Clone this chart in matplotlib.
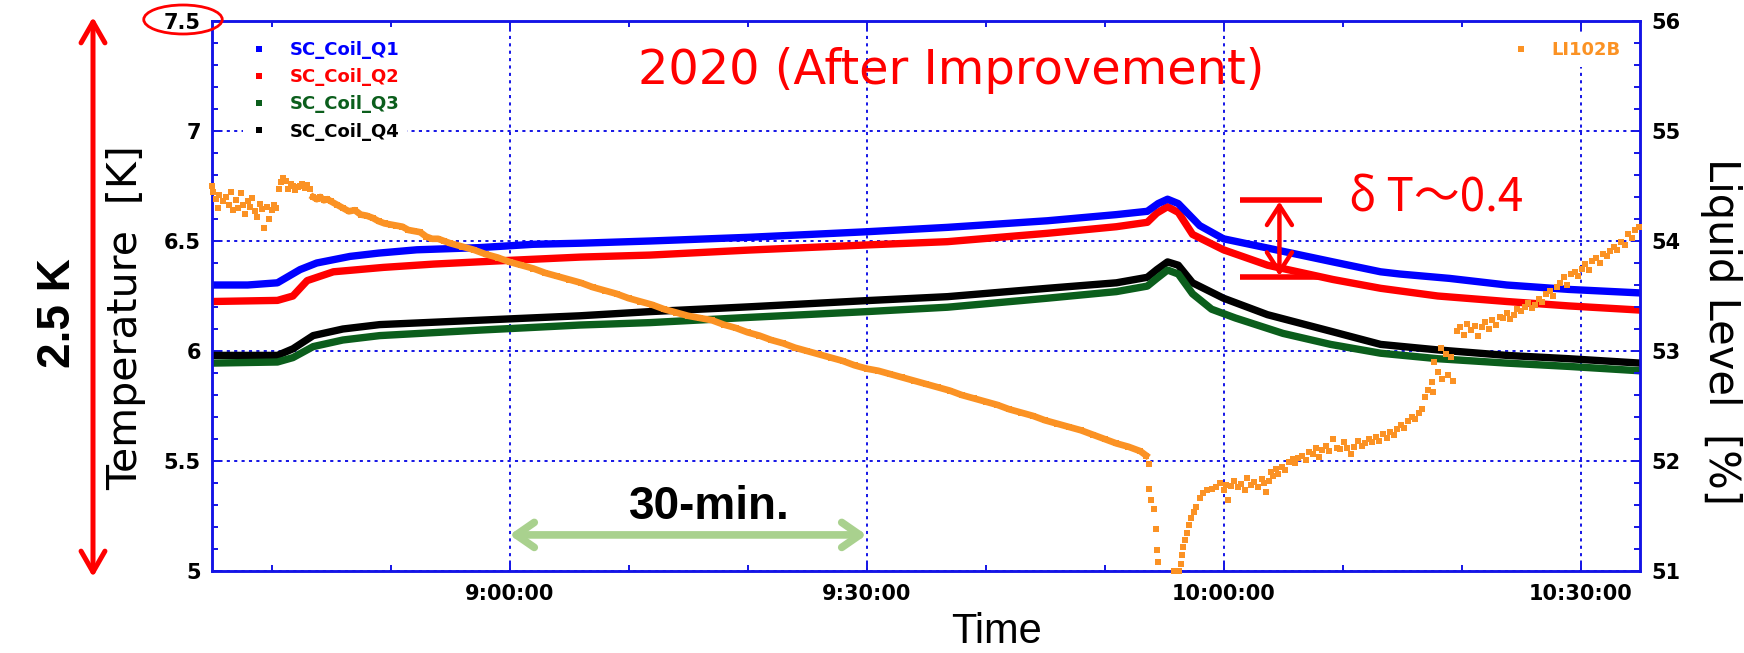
import numpy as np
import matplotlib
matplotlib.use("Agg")
import matplotlib.pyplot as plt
import matplotlib.dates as mdates
from matplotlib.lines import Line2D
from matplotlib.patches import Ellipse, FancyArrowPatch, ArrowStyle

# ---------------------------------------------------------------- data
# time axis: minutes elapsed since 8:35:00
start_time = "2020-01-01T08:35:00"
span_min = 120
time_ticks = ["9:00:00", "9:30:00", "10:00:00", "10:30:00"]

temp_ticks = [5, 5.5, 6, 6.5, 7, 7.5]
level_ticks = [51, 52, 53, 54, 55, 56]

q1_t = [0, 3, 5.5, 7.4, 8.8, 11.6, 14, 17.2, 22.5, 27, 31, 36.8, 45.2, 55, 61.8,
        70.2, 76, 78.6, 79.5, 80.3, 81.2, 82.1, 83, 85, 88.7, 94.2, 98.2, 99.8,
        104, 108.8, 114, 120]
q1 = [6.30, 6.30, 6.31, 6.37, 6.40, 6.43, 6.445, 6.46, 6.47, 6.485, 6.49, 6.50,
      6.517, 6.542, 6.562, 6.592, 6.62, 6.635, 6.67, 6.69, 6.67, 6.62, 6.57, 6.51,
      6.468, 6.405, 6.36, 6.35, 6.33, 6.30, 6.28, 6.264]

q2_t = [0, 5.5, 6.8, 8.0, 10.2, 14.4, 18.6, 24.2, 31, 36.8, 45.2, 55, 61.8, 70.2,
        76, 78.6, 79.4, 80.3, 81.2, 82.4, 85, 88.7, 94.2, 98.2, 103, 108.8, 114, 120]
q2 = [6.225, 6.23, 6.25, 6.32, 6.36, 6.38, 6.395, 6.41, 6.427, 6.436, 6.459,
      6.482, 6.497, 6.535, 6.565, 6.585, 6.627, 6.656, 6.63, 6.53, 6.46, 6.39,
      6.325, 6.285, 6.25, 6.225, 6.205, 6.186]

q3_t = [0, 5.5, 6.8, 8.5, 11, 14.1, 22.5, 30.9, 36.8, 45.2, 55, 61.8, 70.2, 76,
        78.6, 79.4, 80.3, 81.2, 82.4, 84, 86, 90, 94, 98.2, 103, 108.8, 114, 120]
q3 = [5.945, 5.95, 5.97, 6.02, 6.05, 6.07, 6.095, 6.118, 6.129, 6.153, 6.179,
      6.199, 6.24, 6.27, 6.295, 6.33, 6.368, 6.35, 6.26, 6.19, 6.15, 6.08, 6.03,
      5.99, 5.965, 5.945, 5.93, 5.91]

q4_t = [0, 5.5, 6.8, 8.5, 11, 14.1, 22.5, 30.9, 36.8, 45.2, 55, 61.8, 70.2, 76,
        78.6, 79.4, 80.3, 81.2, 82.4, 85, 88.7, 94, 98.2, 103, 108.8, 114, 120]
q4 = [5.98, 5.98, 6.01, 6.07, 6.10, 6.12, 6.14, 6.16, 6.179, 6.201, 6.229, 6.247,
      6.285, 6.31, 6.335, 6.37, 6.405, 6.39, 6.31, 6.24, 6.165, 6.09, 6.03, 6.005,
      5.98, 5.965, 5.945]

li_t = [0.0, 0.1, 0.3, 0.5, 0.6, 0.9, 1.2, 1.4, 1.6, 1.8, 2.0, 2.2, 2.4, 2.6, 2.8,
        3.0, 3.2, 3.4, 3.6, 3.8, 4.0, 4.2, 4.4, 4.6, 4.8, 5.0, 5.2, 5.4,
        5.6, 5.8, 6.0, 6.2, 6.4, 6.6, 6.8, 7.0, 7.2, 7.4, 7.6, 7.8, 8.0, 8.2,
        8.5, 8.8, 9.1, 9.4, 9.7,
        10, 10.5, 11, 11.5, 12, 12.5, 13, 13.5, 14, 14.5, 15, 15.5, 16, 16.5, 17,
        17.5, 18, 18.5, 19, 19.5, 20, 21, 22, 23, 24, 25, 26, 27, 28, 29, 30, 31,
        32, 33, 34, 35, 36, 37, 38, 39, 40, 41, 42, 43, 44, 45, 46, 47, 48, 49, 50,
        51, 52, 53, 54, 55, 56, 57, 58, 59, 60, 61, 62, 63, 64, 65, 66, 67, 68, 69,
        70, 71, 72, 73, 74, 75, 76, 77, 78, 78.5,
        78.7, 78.75, 78.9, 79.2, 79.3, 79.4, 79.5, 80.8, 81.0, 81.3,
        81.4, 81.5, 81.6, 81.8, 81.9, 82.1, 82.3, 82.5, 82.7, 83.0, 83.3, 83.6,
        84.0, 84.4, 84.7, 85.0, 85.2, 85.4, 85.6, 85.9, 86.2, 86.5, 86.8, 87.0,
        87.3, 87.6, 87.9, 88.2, 88.4, 88.6, 88.8, 89.0, 89.2, 89.4, 89.6, 89.9,
        90.2, 90.5, 90.8, 91.0, 91.3, 91.6, 91.9, 92.2, 92.5, 92.8, 93.0, 93.3,
        93.6, 93.9, 94.2, 94.5, 94.8, 95.1, 95.4, 95.7, 96.0, 96.3, 96.6, 96.9,
        97.2, 97.5, 97.8, 98.1, 98.4, 98.7, 99.0, 99.3, 99.6, 99.9, 100.2, 100.5,
        100.8, 101.1, 101.4, 101.7, 101.9, 102.2, 102.5, 102.6, 102.7, 103.0,
        103.3, 103.4, 103.7, 103.9, 104.1, 104.3, 104.6, 104.9, 105.2, 105.5,
        105.8, 106.1, 106.4, 106.7, 107.0, 107.3, 107.6, 107.9, 108.2, 108.5,
        108.8, 109.1, 109.4, 109.7, 110.0, 110.3, 110.6, 110.9, 111.2, 111.5,
        111.8, 112.1, 112.4, 112.7, 113.0, 113.3, 113.6, 113.9, 114.2, 114.5,
        114.8, 115.1, 115.4, 115.7, 116.0, 116.3, 116.6, 116.9, 117.2, 117.5,
        117.8, 118.1, 118.4, 118.7, 119.0, 119.3, 119.6, 119.9]
li = [54.50, 54.45, 54.38, 54.30, 54.42, 54.36, 54.40, 54.33, 54.45, 54.28, 54.37,
      54.30, 54.44, 54.33, 54.25, 54.36, 54.31, 54.39, 54.27, 54.22, 54.34, 54.29,
      54.12, 54.31, 54.20, 54.28, 54.33, 54.30,
      54.47, 54.54, 54.57, 54.55, 54.47, 54.52, 54.50, 54.46, 54.49, 54.50, 54.52,
      54.48, 54.51, 54.47,
      54.40, 54.38, 54.40, 54.37, 54.38,
      54.36, 54.33, 54.30, 54.27, 54.28, 54.24, 54.23, 54.21, 54.18, 54.16, 54.15,
      54.14, 54.13, 54.10, 54.09, 54.08, 54.04, 54.02, 54.02, 54.00, 53.98, 53.95,
      53.92, 53.88, 53.85, 53.81, 53.78, 53.75, 53.71, 53.68, 53.65, 53.62, 53.58,
      53.55, 53.52, 53.48, 53.45, 53.42, 53.38, 53.35, 53.32, 53.30, 53.28, 53.24,
      53.21, 53.17, 53.14, 53.10, 53.07, 53.03, 53.00, 52.97, 52.94, 52.91, 52.87,
      52.84, 52.82, 52.79, 52.76, 52.73, 52.70, 52.67, 52.64, 52.60, 52.57, 52.54,
      52.51, 52.47, 52.44, 52.41, 52.37, 52.34, 52.31, 52.28, 52.24, 52.20, 52.16,
      52.13, 52.09, 52.05,
      51.97, 51.75, 51.65, 51.56, 51.38, 51.19, 51.08, 51.0, 51.0, 51.0,
      51.06, 51.15, 51.22, 51.28, 51.35, 51.42, 51.48, 51.54, 51.58, 51.66, 51.71,
      51.74, 51.75, 51.76, 51.80, 51.74, 51.78, 51.65, 51.77, 51.82, 51.76, 51.79,
      51.74, 51.85, 51.78, 51.81, 51.76, 51.84, 51.80, 51.72, 51.82, 51.90, 51.86,
      51.93, 51.88, 51.95, 51.92, 51.99, 52.02, 51.98, 52.03, 52.05, 52.01, 52.08,
      52.06, 52.12, 52.04, 52.10, 52.14, 52.09, 52.20, 52.12, 52.11, 52.17, 52.12,
      52.06, 52.13, 52.18, 52.14, 52.16, 52.20, 52.17, 52.22, 52.18, 52.25, 52.21,
      52.26, 52.24, 52.29, 52.33, 52.30, 52.36, 52.40, 52.38, 52.44, 52.47, 52.58,
      52.65, 52.72, 52.63, 52.90, 52.81, 53.03, 52.75, 52.97, 52.78, 52.95, 52.73,
      53.18, 53.22, 53.15, 53.25, 53.19, 53.23, 53.14, 53.22, 53.26, 53.20, 53.28,
      53.24, 53.31, 53.30, 53.35, 53.29, 53.33, 53.38, 53.36, 53.40, 53.44, 53.39,
      53.42, 53.47, 53.45, 53.52, 53.55, 53.50, 53.58, 53.62, 53.67, 53.60, 53.70,
      53.72, 53.68, 53.75, 53.79, 53.74, 53.82, 53.85, 53.80, 53.88, 53.86, 53.91,
      53.95, 53.92, 53.99, 53.96, 54.06, 54.03, 54.10, 54.13]

# annotation values
delta_t_text = "δ T～0.4"
delta_t_levels = [6.335, 6.686]

# ---------------------------------------------------------------- styles
BLUE_AX = "#1414e6"
C_Q1, C_Q2, C_Q3, C_Q4 = "#0000ff", "#ff0000", "#0b5e1c", "#000000"
C_LI = "#fb9224"
RED = "#ff0000"
GREEN_ARROW = "#a9d18e"
TICK_FS = 15

W, H = 1744, 653
start = np.datetime64(start_time)


def clock(minutes):
    return start + (np.asarray(minutes, dtype=float) * 60).round().astype("timedelta64[s]")


def to_num(minutes):
    return mdates.date2num(clock(minutes))


def clock_to_elapsed(label):
    h, m, s = (int(v) for v in label.split(":"))
    return h * 60 + m + s / 60 - (8 * 60 + 35)


def temp_to_level(temp):
    # both scales share the same vertical extent
    return level_ticks[0] + (temp - temp_ticks[0]) * (
        (level_ticks[-1] - level_ticks[0]) / (temp_ticks[-1] - temp_ticks[0]))


fig = plt.figure(figsize=(W / 100, H / 100), dpi=100)
ax = fig.add_axes([212 / W, 1 - 571 / H, 1428 / W, 550 / H])
ax2 = ax.twinx()

# temperature traces
for tt, vv, cc in [(q4_t, q4, C_Q4), (q3_t, q3, C_Q3), (q2_t, q2, C_Q2), (q1_t, q1, C_Q1)]:
    ax.plot(to_num(tt), vv, color=cc, lw=5.3, solid_joinstyle="round", zorder=3)

# liquid level
li_t_arr = np.array(li_t)
li_arr = np.array(li)
steady = (li_t_arr >= 8.4) & (li_t_arr <= 78.6)
ax2.plot(to_num(li_t_arr[steady]), li_arr[steady], color=C_LI, lw=4.8, zorder=3)
ax2.plot(to_num(li_t_arr), li_arr, ls="none", marker="s", ms=4.8, mew=0,
         color=C_LI, zorder=3, clip_on=False)

# axes limits and ticks
ax.set_xlim(to_num(0), to_num(span_min))
ax.set_ylim(temp_ticks[0], temp_ticks[-1])
ax2.set_ylim(level_ticks[0], level_ticks[-1])

tick_pos = [to_num(clock_to_elapsed(s)) for s in time_ticks]
ax.set_xticks(tick_pos, labels=time_ticks, fontweight="bold", fontsize=TICK_FS)
ax.xaxis.set_minor_locator(mdates.MinuteLocator(byminute=range(0, 60, 10)))
ax.set_yticks(temp_ticks, labels=[f"{v:g}" for v in temp_ticks],
              fontweight="bold", fontsize=TICK_FS)
ax.yaxis.set_minor_locator(plt.MultipleLocator(0.1))
ax2.set_yticks(level_ticks, labels=[f"{v:g}" for v in level_ticks],
               fontweight="bold", fontsize=TICK_FS)
ax2.yaxis.set_minor_locator(plt.MultipleLocator(0.2))

ax.tick_params(which="major", direction="in", length=6, width=1.4, color=BLUE_AX,
               top=True, right=False, pad=8)
ax.tick_params(which="minor", direction="in", length=4.5, width=1.4, color=BLUE_AX,
               top=True, right=False)
ax.tick_params(axis="x", pad=9)
ax2.tick_params(which="major", direction="in", length=6, width=1.4, color=BLUE_AX, pad=8)
ax2.tick_params(which="minor", direction="in", length=4.5, width=1.4, color=BLUE_AX)

for a in (ax, ax2):
    for sp in a.spines.values():
        sp.set_color(BLUE_AX)
        sp.set_linewidth(1.8)

ax.grid(which="major", color=BLUE_AX, ls=(0, (1.6, 2.2)), lw=1.4)
ax.set_axisbelow(True)

# legends
legend_kw = dict(loc="upper left", borderaxespad=0, frameon=True, facecolor="white",
                 edgecolor="none", framealpha=1, handlelength=1.0, handletextpad=1.2,
                 borderpad=0.4, labelspacing=0.5,
                 prop={"weight": "bold", "size": 13})
coil_handles = [Line2D([], [], ls="none", marker="s", ms=4.5, mew=0, color=c)
                for c in (C_Q1, C_Q2, C_Q3, C_Q4)]
leg1 = ax2.legend(coil_handles, ["SC_Coil_Q1", "SC_Coil_Q2", "SC_Coil_Q3", "SC_Coil_Q4"],
                  bbox_to_anchor=(0.0215, 0.976),
                  labelcolor=[C_Q1, C_Q2, C_Q3, C_Q4], **legend_kw)
ax2.add_artist(leg1)
li_handle = [Line2D([], [], ls="none", marker="s", ms=4.5, mew=0, color=C_LI)]
ax2.legend(li_handle, ["LI102B"], bbox_to_anchor=(0.905, 0.976),
           labelcolor=[C_LI], **legend_kw)

# title
ax2.text(0.5175, 0.91, "2020 (After Improvement)", transform=ax2.transAxes,
         ha="center", va="center", color=RED, fontsize=34.5, zorder=6)

# delta-T bracket
for lev in delta_t_levels:
    ax2.plot([to_num(86.4), to_num(93.3)], [temp_to_level(lev)] * 2, color=RED,
             lw=4, solid_capstyle="butt", zorder=5)
ax2.add_patch(FancyArrowPatch(
    (to_num(89.7), temp_to_level(delta_t_levels[0])),
    (to_num(89.7), temp_to_level(delta_t_levels[1])),
    arrowstyle=ArrowStyle("<->", head_length=14, head_width=9),
    mutation_scale=1, color=RED, lw=3.2, shrinkA=1, shrinkB=1, zorder=5))
ax2.text(to_num(102.9), temp_to_level(6.693), delta_t_text, color=RED, fontsize=33,
         ha="center", va="center", family=["Noto Sans CJK JP", "DejaVu Sans"], zorder=6)

# 30-minute marker
ax2.add_patch(FancyArrowPatch(
    (to_num(clock_to_elapsed("9:00:00")), temp_to_level(5.164)),
    (to_num(clock_to_elapsed("9:30:00")), temp_to_level(5.164)),
    arrowstyle=ArrowStyle("<->", head_length=13, head_width=9),
    mutation_scale=1, color=GREEN_ARROW, lw=5.5, shrinkA=0, shrinkB=0,
    capstyle="round", joinstyle="round", zorder=5))
fig.text(709 / W, 1 - 507 / H, "30-min.", ha="center", va="center", fontsize=33,
         fontweight="bold", family="Liberation Sans")

# axis titles
fig.text(997 / W, 1 - 632 / H, "Time", ha="center", va="center", fontsize=30,
         family="Liberation Sans")
fig.text(126 / W, 1 - 318 / H, "Temperature  [K]", ha="center", va="center",
         rotation=90, fontsize=29.5)
fig.text(1721 / W, 1 - 332 / H, "Liquid Level  [%]", ha="center", va="center",
         rotation=270, fontsize=30)

# full-range arrow on the temperature scale
fig.add_artist(FancyArrowPatch(
    (93 / W, 1 - 17 / H), (93 / W, 1 - 577 / H), transform=fig.transFigure,
    arrowstyle=ArrowStyle("<->", head_length=15, head_width=8.6),
    mutation_scale=1, color=RED, lw=3.6, shrinkA=0, shrinkB=0,
    capstyle="round", joinstyle="round"))
fig.text(58 / W, 1 - 313 / H, "2.5 K", ha="center", va="center", rotation=90,
         fontsize=33, fontweight="bold", family="Liberation Sans")

# highlight of the upper scale limit
fig.add_artist(Ellipse((183 / W, 1 - 19.5 / H), 78.5 / W, 29 / H,
                       transform=fig.transFigure, fill=False, edgecolor=RED, lw=2))

fig.savefig("out.png", dpi=100, facecolor="white")
